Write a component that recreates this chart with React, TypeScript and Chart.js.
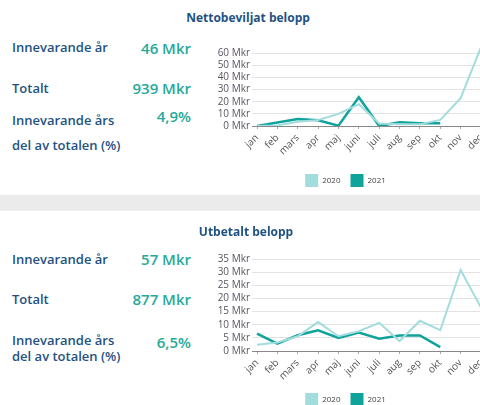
import React, { useEffect, useRef } from "react";
import { Chart, registerables } from "chart.js";

Chart.register(...registerables);

const months = ["jan", "feb", "mars", "apr", "maj", "juni", "juli", "aug", "sep", "okt", "nov", "dec"];
const seriesNames = ["2020", "2021"];

const netto2020 = [0, 0.5, 3.5, 5, 10, 18, 2, 1.5, 1.5, 5, 23, 65];
const netto2021 = [0, 2.8, 5.8, 4.7, 0.3, 23.7, 0, 3, 2.2, 2.2];
const nettoMax = 66;
const nettoStep = 10;

const utb2020 = [2.4, 3.2, 5.6, 11, 5.6, 7.5, 10.7, 3.8, 11.5, 7.9, 30.8, 16.5];
const utb2021 = [6.6, 2.8, 6, 7.9, 5, 7, 4.7, 5.9, 5.9, 1.5];
const utbMax = 35;
const utbStep = 5;

const LIGHT = "#a3dcdd";
const DARK = "#0fa39b";
const LABEL = "#1f5282";
const VALUE = "#26a99a";
const FONT = "'Open Sans', 'Noto Sans', sans-serif";

type ChartProps = {
  a: number[];
  b: number[];
  max: number;
  step: number;
  top: number;
  height: number;
  padTop: number;
  xHeight: number;
};

function LineChart({ a, b, max, step, top, height, padTop, xHeight }: ChartProps) {
  const ref = useRef<HTMLCanvasElement | null>(null);
  useEffect(() => {
    if (!ref.current) return;
    const chart = new Chart(ref.current, {
      type: "line",
      data: {
        labels: months,
        datasets: [
          {
            label: seriesNames[0],
            data: a,
            borderColor: LIGHT,
            backgroundColor: LIGHT,
            borderWidth: 2,
            pointRadius: 0,
            tension: 0,
          },
          {
            label: seriesNames[1],
            data: b,
            borderColor: DARK,
            backgroundColor: DARK,
            borderWidth: 2.5,
            pointRadius: 0,
            tension: 0,
          },
        ],
      },
      options: {
        animation: false,
        responsive: false,
        maintainAspectRatio: false,
        layout: { padding: { top: padTop, left: 10, right: 9, bottom: 0 } },
        plugins: {
          tooltip: { enabled: false },
          legend: {
            display: true,
            position: "bottom",
            labels: {
              boxWidth: 13,
              boxHeight: 13,
              padding: 10,
              color: "#444",
              font: { family: FONT, size: 8 },
              generateLabels(ch: any) {
                const items = (Chart as any).defaults.plugins.legend.labels.generateLabels(ch);
                items.forEach((it: any) => {
                  it.lineWidth = 0;
                });
                return items;
              },
            },
          },
        },
        scales: {
          x: {
            type: "category",
            offset: false,
            grid: {
              display: true,
              drawOnChartArea: false,
              drawTicks: true,
              tickLength: 3,
              color: "#aaa",
            },
            border: { display: true, color: "#888", width: 1 },
            ticks: {
              autoSkip: false,
              minRotation: 45,
              maxRotation: 45,
              padding: 3,
              color: "#555",
              font: { family: FONT, size: 10 },
            },
            afterFit(scale: any) {
              scale.height = xHeight;
              scale.paddingLeft = 0;
              scale.paddingRight = 0;
            },
          },
          y: {
            min: 0,
            max: max,
            grid: {
              color: (ctx: any) => (ctx.tick && ctx.tick.value === 0 ? "#888" : "#e3e3e3"),
              drawTicks: true,
              tickLength: 5,
            },
            border: { display: false },
            ticks: {
              stepSize: step,
              autoSkip: false,
              includeBounds: false,
              padding: 2,
              color: "#5a5460",
              font: { family: FONT, size: 10 },
              callback: (v: any) => `${v} Mkr`,
            },
            afterFit(scale: any) {
              scale.width = 47;
            },
          },
        },
      },
    });
    return () => chart.destroy();
  }, []);
  return (
    <canvas
      ref={ref}
      width={290}
      height={height}
      style={{ position: "absolute", left: 200, top, width: 290, height }}
    />
  );
}

function Txt({
  text,
  x,
  cy,
  size,
  color,
  weight,
  align,
}: {
  text: string;
  x: number;
  cy: number;
  size: number;
  color: string;
  weight: number;
  align: "left" | "right" | "center";
}) {
  const lh = size + 6;
  const style: React.CSSProperties = {
    position: "absolute",
    top: cy - lh / 2,
    lineHeight: `${lh}px`,
    height: lh,
    fontSize: size,
    fontWeight: weight,
    fontFamily: FONT,
    color,
    whiteSpace: "nowrap",
  };
  if (align === "left") style.left = x;
  else if (align === "right") style.right = 480 - x;
  else {
    style.left = x - 150;
    style.width = 300;
    style.textAlign = "center";
  }
  return <div style={style}>{text}</div>;
}

export default function App() {
  return (
    <div
      style={{
        position: "fixed",
        left: 0,
        top: 0,
        width: 480,
        height: 405,
        overflow: "hidden",
        background: "#fff",
      }}
    >
      <LineChart a={netto2020} b={netto2021} max={nettoMax} step={nettoStep} top={30} height={167} padTop={16} xHeight={38} />
      <LineChart a={utb2020} b={utb2021} max={utbMax} step={utbStep} top={240} height={176} padTop={19} xHeight={32} />

      <div style={{ position: "absolute", left: 0, top: 195, width: 480, height: 16, background: "#ebebeb" }} />

      <Txt text="Nettobeviljat belopp" x={248} cy={18} size={12} color={LABEL} weight={700} align="center" />
      <Txt text="Innevarande år" x={12} cy={47.5} size={13} color={LABEL} weight={600} align="left" />
      <Txt text="46 Mkr" x={191} cy={48} size={15} color={VALUE} weight={600} align="right" />
      <Txt text="Totalt" x={12} cy={88} size={13} color={LABEL} weight={600} align="left" />
      <Txt text="939 Mkr" x={191} cy={88} size={15} color={VALUE} weight={600} align="right" />
      <Txt text="Innevarande års" x={12} cy={120.5} size={13} color={LABEL} weight={600} align="left" />
      <Txt text="4,9%" x={191} cy={116.5} size={15} color={VALUE} weight={600} align="right" />
      <Txt text="del av totalen (%)" x={12} cy={145.5} size={13} color={LABEL} weight={600} align="left" />

      <Txt text="Utbetalt belopp" x={246} cy={232} size={12} color={LABEL} weight={700} align="center" />
      <Txt text="Innevarande år" x={12} cy={259} size={13} color={LABEL} weight={600} align="left" />
      <Txt text="57 Mkr" x={191} cy={259} size={15} color={VALUE} weight={600} align="right" />
      <Txt text="Totalt" x={12} cy={299} size={13} color={LABEL} weight={600} align="left" />
      <Txt text="877 Mkr" x={191} cy={299} size={15} color={VALUE} weight={600} align="right" />
      <Txt text="Innevarande års" x={12} cy={340} size={13} color={LABEL} weight={600} align="left" />
      <Txt text="6,5%" x={191} cy={342.5} size={15} color={VALUE} weight={600} align="right" />
      <Txt text="del av totalen (%)" x={12} cy={356.5} size={13} color={LABEL} weight={600} align="left" />
    </div>
  );
}
